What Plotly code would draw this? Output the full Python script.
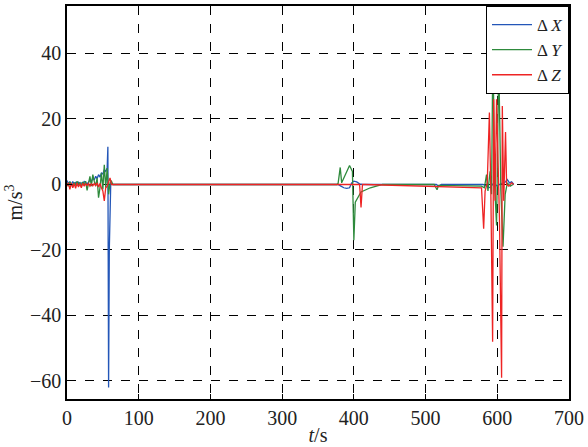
import plotly.graph_objects as go

# ---- data ----
t_x = [0, 2, 4, 6, 8, 10, 12, 14, 16, 18, 20, 22, 24, 26, 28, 30, 32, 34, 36, 38, 40, 42, 44, 46, 48, 50,
       52, 54, 56, 57, 58, 59, 61, 64, 70, 378, 382, 386, 390, 394, 397, 400, 404, 408, 412, 515, 518, 522,
       580, 585, 590, 595, 600, 605, 610, 614, 617, 620, 623]
dx = [1.2, 0.3, 0.8, -0.2, 0.9, 0.2, 0.6, -0.3, 0.7, 0.4, 0.5, 0.1, 0.9, 0.6, 0.2, 0.7, 1.3, 1.0, 2.0, 1.4, 2.5,
      1.8, 3.0, 2.2, 3.5, 3.2, 4.5, 4.0, 5.0, 11.5, -62.0, -20.0, 0.5, 0.0, 0.0, 0.0, -0.5, -1.0, -1.2, -1.0,
      0.5, 1.0, 0.8, 0.2, 0.0, 0.0, -0.5, 0.0, 0.0, -0.5, -1.0, 0.5, -0.5, 0.3, 0.5, 1.5, 0.5, 0.8, 0.0]

t_y = [0, 2, 4, 6, 8, 10, 12, 14, 16, 18, 20, 22, 24, 26, 28, 30, 32, 34, 36, 38, 40, 42, 44, 46, 48, 50,
       52, 54, 56, 58, 60, 62, 64, 70, 376, 378, 381, 383, 394, 398, 400, 402, 410, 423, 440, 512, 516, 518,
       525, 550, 578, 582, 585, 587, 590, 592, 594, 596, 599, 602, 605, 608, 611, 614, 618, 622]
dy = [0.5, -0.5, 0.8, 0.2, -0.8, 0.6, -0.3, 1.0, 0.0, 0.5, -0.6, 0.8, -0.2, 1.0, -1.8, 0.5, 2.5, -0.5, 3.0,
      1.0, -0.5, 2.0, -4.0, -1.0, 3.5, -1.5, 6.0, -1.0, 5.0, -3.0, 0.5, 1.0, 0.0, 0.0, 0.0, 0.3, 5.2, 0.5,
      5.8, 4.0, -17.0, -5.4, -2.3, -1.0, 0.0, 0.0, -1.6, -0.3, -0.3, -0.5, -0.5, -1.0, 3.0, -2.0, 4.0, -3.0,
      45.0, 1.0, -12.5, 38.0, -2.0, -19.0, -3.0, 0.5, -0.5, 0.0]

t_z = [0, 2, 4, 6, 8, 10, 12, 14, 16, 18, 20, 22, 24, 26, 28, 30, 32, 34, 36, 38, 40, 42, 44, 46, 48, 50,
       52, 54, 56, 58, 60, 62, 64, 70, 408, 410, 412, 416, 578, 581, 583, 586, 589, 591, 593.5, 595, 597,
       599, 601, 603, 606, 607, 609, 611.5, 613, 616, 620, 623]
dz = [-0.5, 0.5, -1.5, 0.5, -1.0, 0.3, -1.2, 0.5, -0.8, 0.2, -1.0, 0.4, -0.5, 0.2, -0.3, 0.3, -0.5, 0.2,
      -0.4, 0.3, -0.3, 0.5, -0.8, 0.3, -1.0, -2.0, -5.0, -1.0, -0.5, 1.0, 2.0, 0.0, 0.0, 0.0, 0.0, -7.0,
      0.0, 0.0, -1.0, -13.5, -2.0, 0.5, 22.0, -2.0, -48.0, 26.0, -5.0, 26.0, 2.0, -10.0, -59.0, 24.0,
      -5.0, 16.0, 0.0, -0.5, 0.5, 0.0]

x_ticks = [0, 100, 200, 300, 400, 500, 600, 700]
y_ticks = [-60, -40, -20, 0, 20, 40]

FONT = '"Liberation Serif", "Times New Roman", serif'

fig = go.Figure()
fig.add_trace(go.Scatter(x=t_x, y=dx, mode="lines", name="Δ <i>X</i>",
                         line=dict(color="#2356b8", width=1.3)))
fig.add_trace(go.Scatter(x=t_y, y=dy, mode="lines", name="Δ <i>Y</i>",
                         line=dict(color="#2e8a3c", width=1.3)))
fig.add_trace(go.Scatter(x=t_z, y=dz, mode="lines", name="Δ <i>Z</i>",
                         line=dict(color="#ee2424", width=1.3)))

axis_common = dict(
    showline=True, linecolor="black", linewidth=1.5, mirror=True,
    ticks="inside", ticklen=5, tickcolor="black", tickwidth=1,
    showgrid=True, gridcolor="black", gridwidth=1, griddash="dash",
    zeroline=False, tickfont=dict(family=FONT, size=20, color="#222"),
)

fig.update_layout(
    width=588, height=447,
    margin=dict(l=67, r=16, t=4, b=47),
    paper_bgcolor="white", plot_bgcolor="white",
    font=dict(family=FONT, size=20, color="#222"),
    showlegend=True,
    legend=dict(x=1, y=1, xanchor="right", yanchor="top",
                bgcolor="white", bordercolor="black", borderwidth=1,
                font=dict(family=FONT, size=17, color="#222"),
                tracegroupgap=0, itemwidth=40),
    xaxis=dict(range=[0, 700], tickvals=x_ticks,
               title=dict(text="<i>t</i>/s", standoff=0,
                          font=dict(family=FONT, size=20, color="#222")),
               **axis_common),
    yaxis=dict(range=[-65.5, 54.5], tickvals=y_ticks,
               title=dict(text="m/s<sup>3</sup>", standoff=2,
                          font=dict(family=FONT, size=20, color="#222")),
               **axis_common),
)

fig.write_html("out.html")
